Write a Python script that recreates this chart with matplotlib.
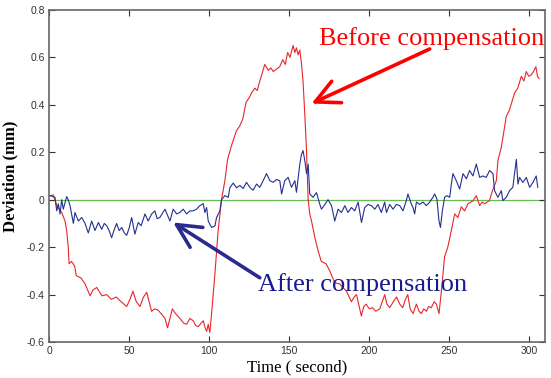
import matplotlib.pyplot as plt

# data
before_t = [0.6, 2.7, 4.8, 7.9, 10.0, 11.0, 12.0, 12.5, 14.0, 16.0, 17.0, 20.0, 22.5, 25.6, 27.5,
            29.8, 33.0, 36.0, 39.0, 42.0, 45.0, 48.5, 50.5, 52.4, 54.5, 56.8, 59.0, 61.0, 62.5,
            64.0, 66.0, 68.0, 70.0, 72.4, 74.0, 75.5, 77.0, 79.0, 81.7, 84.0, 85.9, 88.0, 90.0,
            91.5, 93.1, 95.0, 96.3, 97.5, 98.4, 99.4, 100.4, 101.5, 103.6, 105.6, 107.7, 109.8,
            111.5, 114.0, 117.0, 119.0, 121.0, 123.0, 125.0, 126.5, 128.5, 130.0, 131.6, 133.0,
            134.7, 137.0, 138.5, 140.0, 142.0, 144.0, 146.0, 147.5, 149.0, 150.5, 152.4, 153.5,
            154.5, 155.5, 156.6, 157.6, 158.6, 159.7, 160.7, 161.8, 162.8, 163.9, 166.0, 168.0,
            170.0, 173.0, 175.3, 178.4, 181.5, 183.5, 185.7, 188.8, 190.5, 192.0, 195.0, 196.5,
            198.0, 200.0, 202.0, 204.0, 206.5, 209.6, 211.0, 212.7, 215.0, 217.0, 219.0, 220.8,
            222.5, 224.0, 225.5, 227.3, 229.4, 231.0, 232.5, 234.0, 235.6, 237.0, 238.7, 240.5,
            241.9, 243.5, 245.0, 247.0, 249.0, 251.2, 253.3, 255.3, 257.4, 259.5, 261.6, 264.7,
            266.8, 268.9, 270.5, 272.0, 275.0, 277.0, 279.3, 280.3, 282.4, 285.5, 287.6, 290.7,
            292.7, 294.9, 296.5, 298.0, 299.5, 301.0, 302.5, 304.0, 305.0, 306.0]
before_dev = [0.017, 0.02, -0.025, -0.054, -0.09, -0.13, -0.2, -0.27, -0.26, -0.28, -0.32, -0.33,
              -0.355, -0.405, -0.38, -0.37, -0.405, -0.40, -0.42, -0.41, -0.43, -0.45, -0.42,
              -0.385, -0.43, -0.45, -0.41, -0.39, -0.43, -0.47, -0.46, -0.465, -0.48, -0.50,
              -0.54, -0.50, -0.46, -0.48, -0.50, -0.52, -0.525, -0.50, -0.51, -0.53, -0.535,
              -0.52, -0.51, -0.54, -0.555, -0.525, -0.56, -0.48, -0.31, -0.13, 0.0, 0.08, 0.17,
              0.23, 0.29, 0.31, 0.34, 0.41, 0.43, 0.45, 0.47, 0.46, 0.50, 0.53, 0.57, 0.545,
              0.555, 0.54, 0.55, 0.56, 0.59, 0.57, 0.62, 0.60, 0.65, 0.62, 0.64, 0.61, 0.63,
              0.575, 0.50, 0.36, 0.22, 0.0, -0.06, -0.09, -0.16, -0.215, -0.26, -0.27, -0.30,
              -0.35, -0.355, -0.37, -0.385, -0.43, -0.41, -0.40, -0.49, -0.45, -0.44, -0.46,
              -0.455, -0.47, -0.46, -0.40, -0.44, -0.455, -0.43, -0.41, -0.44, -0.455, -0.42,
              -0.40, -0.46, -0.48, -0.44, -0.47, -0.48, -0.46, -0.47, -0.45, -0.455, -0.43,
              -0.44, -0.48, -0.385, -0.24, -0.20, -0.13, -0.06, -0.075, -0.03, -0.047, -0.017,
              -0.005, 0.017, -0.025, -0.01, -0.017, -0.004, 0.04, 0.08, 0.165, 0.22, 0.35, 0.38,
              0.45, 0.47, 0.52, 0.50, 0.54, 0.52, 0.525, 0.54, 0.56, 0.52, 0.51]

after_t = [0.6, 3.7, 4.8, 5.8, 6.9, 7.9, 8.9, 11.0, 12.0, 13.1, 15.2, 16.2, 18.3, 20.4, 22.5,
           24.5, 26.6, 28.7, 30.8, 32.9, 34.5, 36.0, 37.5, 39.1, 40.5, 42.2, 43.8, 45.4, 47.0,
           48.5, 50.0, 51.6, 53.6, 55.7, 57.5, 59.9, 61.9, 64.1, 66.1, 67.5, 69.2, 72.4, 75.5,
           77.5, 79.7, 81.7, 83.8, 85.9, 88.0, 90.0, 92.1, 94.2, 96.3, 97.3, 98.4, 99.4, 101.5,
           103.6, 104.6, 106.7, 107.7, 109.8, 111.9, 112.9, 115.0, 117.1, 119.2, 121.2, 123.3,
           125.4, 127.4, 129.6, 131.6, 133.7, 135.8, 137.9, 139.9, 142.0, 144.1, 145.2, 147.2,
           149.3, 151.4, 153.5, 154.5, 156.6, 157.6, 158.6, 159.7, 160.8, 161.8, 162.8, 164.9,
           167.0, 169.1, 170.1, 172.2, 174.2, 176.4, 178.4, 180.5, 182.6, 184.7, 186.7, 188.8,
           190.9, 193.0, 195.1, 197.1, 199.2, 201.3, 203.4, 205.4, 207.5, 209.6, 210.7, 212.7,
           214.8, 216.9, 219.0, 221.0, 223.1, 224.1, 226.3, 227.3, 228.3, 229.4, 231.4, 233.5,
           235.6, 237.7, 239.7, 240.8, 242.2, 243.5, 244.4, 245.6, 247.0, 248.5, 250.2, 251.2,
           252.2, 254.3, 256.4, 258.5, 260.6, 262.6, 264.7, 266.8, 268.9, 270.9, 273.0, 275.1,
           277.2, 278.2, 280.3, 282.4, 283.4, 285.5, 287.6, 289.6, 291.8, 292.8, 293.8, 295.9,
           298.0, 300.1, 302.2, 304.2, 305.2]
after_dev = [0.017, 0.01, -0.047, -0.017, -0.06, 0.0, -0.04, 0.013, 0.0, -0.025, -0.10, -0.054,
             -0.09, -0.075, -0.10, -0.14, -0.09, -0.13, -0.096, -0.125, -0.10, -0.11, -0.13,
             -0.16, -0.13, -0.10, -0.13, -0.117, -0.14, -0.15, -0.12, -0.075, -0.145, -0.096,
             -0.11, -0.06, -0.09, -0.06, -0.047, -0.08, -0.075, -0.04, -0.09, -0.04, -0.06,
             -0.054, -0.04, -0.06, -0.047, -0.047, -0.04, -0.025, -0.017, -0.054, -0.033, -0.09,
             -0.117, -0.11, -0.075, -0.047, 0.0, 0.017, 0.01, 0.05, 0.07, 0.05, 0.06, 0.047,
             0.073, 0.052, 0.04, 0.066, 0.052, 0.08, 0.11, 0.08, 0.073, 0.085, 0.08, 0.024,
             0.08, 0.094, 0.052, 0.08, 0.031, 0.15, 0.19, 0.207, 0.165, 0.11, 0.15, 0.024,
             0.01, 0.03, -0.02, -0.04, -0.02, 0.0, -0.025, -0.09, -0.04, -0.054, -0.025,
             -0.054, -0.033, -0.047, -0.01, -0.096, -0.033, -0.02, -0.025, -0.04, -0.02,
             -0.054, -0.01, -0.054, -0.02, -0.04, -0.02, -0.025, -0.047, -0.004, 0.024, -0.02,
             -0.033, -0.06, -0.01, -0.02, -0.01, -0.025, -0.01, 0.01, 0.024, 0.003, -0.09,
             -0.117, -0.047, 0.01, 0.017, 0.01, 0.066, 0.11, 0.08, 0.045, 0.11, 0.088, 0.123,
             0.10, 0.15, 0.094, 0.10, 0.094, 0.123, 0.11, 0.038, 0.01, 0.038, -0.004, 0.01,
             0.038, 0.052, 0.17, 0.066, 0.094, 0.073, 0.094, 0.052, 0.073, 0.10, 0.052]

xticks = [0, 50, 100, 150, 200, 250, 300]
yticks = [-0.6, -0.4, -0.2, 0, 0.2, 0.4, 0.6, 0.8]
ytick_labels = ['-0.6', '-0.4', '-0.2', '0', '0.2', '0.4', '0.6', '0.8']

red = '#e8262a'
navy = '#22318f'

fig = plt.figure(figsize=(5.51, 3.78), dpi=100)
ax = fig.add_axes([0.089, 0.095, 0.901, 0.879])

ax.axhline(0, color='#66bb55', lw=0.9, zorder=1)
ax.plot(before_t, before_dev, color=red, lw=0.8, zorder=2)
ax.plot(after_t, after_dev, color=navy, lw=0.8, zorder=3)

ax.set_xlim(0, 310)
ax.set_ylim(-0.6, 0.8)
ax.set_xticks(xticks)
ax.set_yticks(yticks)
ax.set_yticklabels(ytick_labels)
ax.tick_params(direction='in', top=True, right=True, length=4, width=0.8,
               labelsize=7.5, colors='#333333', pad=3)
for lab in ax.get_xticklabels() + ax.get_yticklabels():
    lab.set_family('Liberation Sans')
for s in ax.spines.values():
    s.set_color('#666666')
    s.set_linewidth(1.2)

ax.set_xlabel('Time ( second)', family='Liberation Serif', fontsize=12, labelpad=2)
ax.set_ylabel('Deviation (mm)', family='Liberation Serif', fontsize=12, fontweight='bold',
              labelpad=6)

# annotations
ax.text(168.5, 0.651, 'Before compensation', color='red', family='Liberation Serif',
        fontsize=19, ha='left', va='baseline', clip_on=False)
ax.annotate('', xy=(163.9, 0.405), xytext=(237.7, 0.635),
            arrowprops=dict(arrowstyle='->,head_length=1.0,head_width=0.5', lw=2.6,
                            color='red', mutation_scale=17, shrinkA=0, shrinkB=0))

ax.text(130.5, -0.385, 'After compensation', color='#1a1a8c', family='Liberation Serif',
        fontsize=19, ha='left', va='baseline')
ax.annotate('', xy=(77.5, -0.096), xytext=(131.6, -0.329),
            arrowprops=dict(arrowstyle='->,head_length=1.0,head_width=0.5', lw=2.6,
                            color='#2b2b8f', mutation_scale=17, shrinkA=0, shrinkB=0))

fig.savefig('out.png', dpi=100)
